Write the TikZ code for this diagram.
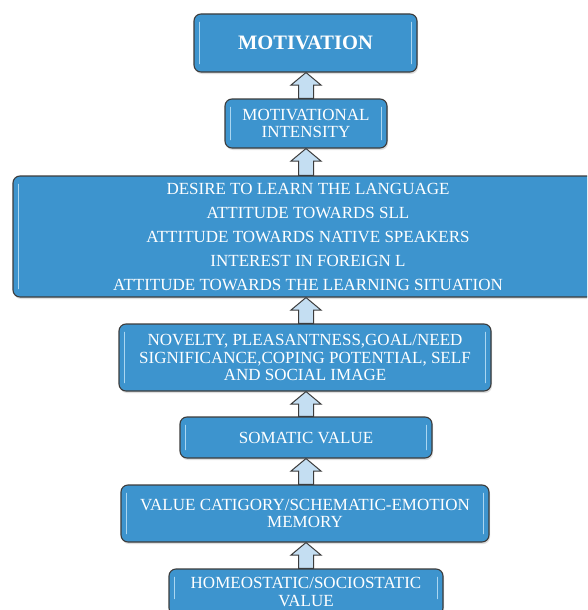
\documentclass[tikz,border=0pt]{standalone}
\usepackage{fontspec}
\setmainfont{Liberation Serif}
\usetikzlibrary{calc,shadows}
\definecolor{boxblue}{RGB}{61,148,206}
\definecolor{boxedge}{RGB}{60,60,60}
\definecolor{arrowfill}{RGB}{196,222,242}
\definecolor{hilite}{RGB}{190,226,248}
\tikzset{
  blk/.style={draw=boxedge, line width=1.1pt, fill=boxblue, rounded corners=7pt,
    text=white, align=center, inner sep=0pt,
    font=\fontsize{17}{17.5}\selectfont,
    drop shadow={opacity=0.25, shadow xshift=1pt, shadow yshift=-2pt}},
  hl/.style={draw=hilite, line width=1.6pt, line cap=round, opacity=0.85},
  arrowblk/.style={draw=boxedge, line width=1pt, fill=arrowfill, line join=miter}
}
\newcommand\blockarrow[2]{%
  \path let \p1=(#1.north), \p2=(#2.south) in
    [arrowblk] (306pt-7.5pt,\y1) -- (306pt-7.5pt,\y2-12.5pt) -- (306pt-15pt,\y2-12.5pt)
    -- (306pt,\y2) -- (306pt+15pt,\y2-12.5pt) -- (306pt+7.5pt,\y2-12.5pt)
    -- (306pt+7.5pt,\y1) -- cycle;}
\newcommand\hiliteL[1]{%
  \draw[hl] ([xshift=6pt,yshift=-9pt]#1.north west) -- ([xshift=6pt,yshift=9pt]#1.south west);}
\newcommand\hiliteR[1]{%
  \draw[hl] ([xshift=-6pt,yshift=-9pt]#1.north east) -- ([xshift=-6pt,yshift=9pt]#1.south east);}
\begin{document}
\begin{tikzpicture}[x=1pt,y=-1pt]
\useasboundingbox (0,0) rectangle (587,610);
\clip (0,0) rectangle (587,610);
\fill[white] (0,0) rectangle (587,610);
% boxes (named, positioned by centre)
\node[blk, minimum width=223pt, minimum height=58pt, font=\fontsize{20.5}{22}\selectfont\bfseries] (b1) at (305.5,43) {MOTIVATION};
\node[blk, minimum width=162pt, minimum height=49pt] (b2) at (306,123.5) {MOTIVATIONAL\\INTENSITY};
\node[blk, minimum width=590pt, minimum height=121pt, font=\fontsize{17}{24}\selectfont] (b3) at (308,236.5)
  {DESIRE TO LEARN THE LANGUAGE\\ATTITUDE TOWARDS SLL\\ATTITUDE TOWARDS NATIVE SPEAKERS\\INTEREST IN FOREIGN L\\ATTITUDE TOWARDS THE LEARNING SITUATION};
\node[blk, minimum width=372pt, minimum height=67pt] (b4) at (305,357.5) {NOVELTY, PLEASANTNESS,GOAL/NEED\\SIGNIFICANCE,COPING POTENTIAL, SELF\\AND SOCIAL IMAGE};
\node[blk, minimum width=252pt, minimum height=41pt] (b5) at (306,437.5) {SOMATIC VALUE};
\node[blk, minimum width=368pt, minimum height=57pt] (b6) at (305,513.5) {VALUE CATIGORY/SCHEMATIC-EMOTION\\MEMORY};
\node[blk, minimum width=274pt, minimum height=46pt] (b7) at (306,592) {HOMEOSTATIC/SOCIOSTATIC\\VALUE};
% highlights
\foreach \b in {b1,b2,b4,b5,b6} {\hiliteL{\b}\hiliteR{\b}}
\hiliteL{b3}
\draw[hl] ([xshift=6pt,yshift=-9pt]b7.north west) -- ([xshift=6pt,yshift=-30pt]b7.north west);
\draw[hl] ([xshift=-6pt,yshift=-9pt]b7.north east) -- ([xshift=-6pt,yshift=-30pt]b7.north east);
% connectors
\blockarrow{b2}{b1}
\blockarrow{b3}{b2}
\blockarrow{b4}{b3}
\blockarrow{b5}{b4}
\blockarrow{b6}{b5}
\blockarrow{b7}{b6}
\end{tikzpicture}
\end{document}
